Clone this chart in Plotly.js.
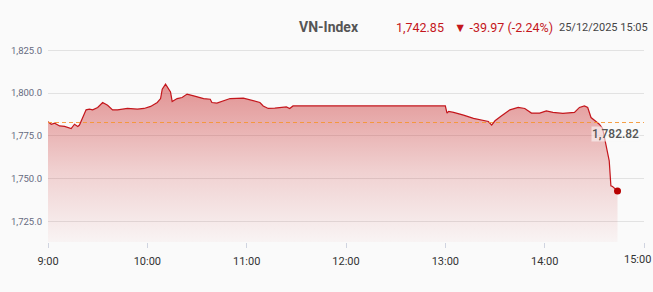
<!DOCTYPE html>
<html>
<head>
<meta charset="utf-8">
<script src="https://cdn.plot.ly/plotly-3.0.1.min.js"></script>
<style>html,body{margin:0;padding:0;background:#fafafa;}#chart{width:653px;height:292px;}</style>
</head>
<body>
<div id="chart"></div>
<script>
const day = '2025-12-25 ';
const times = ['09:00','09:02','09:04','09:07','09:10','09:14','09:16','09:18','09:19','09:23','09:25','09:27','09:30','09:33','09:36','09:39','09:42','09:45','09:48','09:54','09:58','10:02','10:06','10:08','10:09','10:11','10:14','10:15','10:18','10:21','10:24','10:28','10:34','10:38','10:39','10:42','10:46','10:50','10:58','11:02','11:06','11:08','11:10','11:13','11:17','11:22','11:24','11:26','11:28','11:30','13:00','13:01','13:02','13:05','13:10','13:11','13:17','13:23','13:26','13:28','13:30','13:34','13:39','13:44','13:48','13:52','13:57','14:01','14:05','14:11','14:18','14:21','14:24','14:26','14:28','14:31','14:33','14:35','14:37','14:39','14:40','14:41','14:44'];
const values = [1783.2,1781.8,1782.4,1780.8,1780.5,1779.3,1781.8,1780.5,1781.3,1790.2,1790.6,1790.2,1791.6,1794.5,1792.9,1790.2,1790.2,1790.6,1791.0,1790.6,1791.0,1792.2,1794.5,1796.8,1802.3,1805.2,1800.7,1795.1,1796.8,1797.4,1799.4,1798.4,1796.8,1796.4,1794.5,1794.1,1795.4,1796.8,1797.0,1796.0,1795.4,1794.5,1792.5,1791.0,1791.2,1791.6,1791.9,1791.0,1792.5,1792.5,1792.5,1788.3,1789.3,1788.7,1787.7,1787.1,1785.2,1783.8,1783.4,1781.3,1783.8,1786.7,1790.2,1791.6,1791.0,1788.3,1788.3,1789.6,1788.7,1788.1,1788.7,1791.6,1792.5,1791.6,1785.7,1783.4,1781.8,1779.3,1769.2,1760.4,1745.8,1745.4,1742.85];
const refValue = 1782.82;
const refLabel = '1,782.82';
const tickTimes = ['09:00','10:00','11:00','12:00','13:00','14:00','15:00'];
const tickLabels = ['9:00','10:00','11:00','12:00','13:00','14:00','15:00'];
const yTicks = [1725,1750,1775,1800,1825];
const titleName = 'VN-Index';
const lastPrice = '1,742.85';
const change = '▼ -39.97 (-2.24%)';
const stamp = '25/12/2025 15:05';

const xs = times.map(t => day + t);
const xRange = [day + '09:00', day + '15:00'];
const yRange = [1713, 1831];

const main = {
  x: xs, y: values, type: 'scatter', mode: 'lines',
  line: {color: '#c4161c', width: 1.2},
  fill: 'tozeroy',
  fillgradient: {type: 'vertical', start: yRange[0], stop: 1806,
    colorscale: [[0, 'rgba(200,40,40,0.03)'], [0.45, 'rgba(200,40,40,0.2)'], [1, 'rgba(200,40,40,0.5)']]},
  hoverinfo: 'skip', showlegend: false
};
const last = {
  x: [xs[xs.length - 1]], y: [values[values.length - 1]], type: 'scatter', mode: 'markers',
  marker: {color: '#b80000', size: 7}, showlegend: false, hoverinfo: 'skip'
};

const layout = {
  width: 653, height: 292,
  margin: {l: 48, r: 9, t: 40, b: 50},
  paper_bgcolor: '#fafafa', plot_bgcolor: '#fafafa',
  font: {family: 'Roboto, sans-serif'},
  xaxis: {
    type: 'date', range: xRange,
    tickvals: tickTimes.map(t => day + t),
    ticktext: tickLabels.map((t, i) => i === tickLabels.length - 1 ? '' : t),
    showgrid: false, zeroline: false, showline: false,
    ticks: 'outside', ticklen: 5, tickcolor: '#d0d4e0',
    ticklabelstandoff: 4,
    tickfont: {size: 11, color: '#333'}
  },
  yaxis: {
    range: yRange, tickvals: yTicks, tickformat: ',.1f',
    showgrid: true, gridcolor: '#e2e2e2', gridwidth: 1, zeroline: false, showline: false,
    ticks: '', ticklabelstandoff: 5,
    tickfont: {size: 9.5, color: '#666a80'}
  },
  shapes: [{
    type: 'line', xref: 'paper', x0: 0, x1: 1, yref: 'y', y0: refValue, y1: refValue,
    line: {color: 'rgba(245,150,50,0.9)', width: 1.2, dash: '4px,3px'}
  }],
  annotations: [
    {xref: 'paper', x: 1, y: refValue, yref: 'y', yshift: -12, xshift: -4, xanchor: 'right', yanchor: 'middle',
     text: refLabel, showarrow: false, font: {size: 12, color: '#555', weight: 500}, bgcolor: 'rgba(250,250,250,0.6)', borderpad: 0},
    {xref: 'paper', x: 1, xshift: 9, yref: 'paper', y: 0, yshift: -9, xanchor: 'right', yanchor: 'top',
     text: tickLabels[tickLabels.length - 1], showarrow: false, font: {size: 11, color: '#333'}},
    {xref: 'paper', yref: 'paper', x: (297 - 48) / 596, y: 1, yshift: 13, xanchor: 'left', yanchor: 'middle',
     text: '<b>' + titleName + '</b>', showarrow: false, font: {size: 14, color: '#555'}},
    {xref: 'paper', yref: 'paper', x: (394 - 48) / 596, y: 1, yshift: 13, xanchor: 'left', yanchor: 'middle',
     text: lastPrice, showarrow: false, font: {size: 12.5, color: '#c4161c'}},
    {xref: 'paper', yref: 'paper', x: (452 - 48) / 596, y: 1, yshift: 13, xanchor: 'left', yanchor: 'middle',
     text: change, showarrow: false, font: {size: 12.5, color: '#c4161c'}},
    {xref: 'paper', yref: 'paper', x: (557 - 48) / 596, y: 1, yshift: 13, xanchor: 'left', yanchor: 'middle',
     text: stamp, showarrow: false, font: {size: 11, color: '#444'}}
  ]
};

Plotly.newPlot('chart', [main, last], layout, {staticPlot: true, displayModeBar: false});
</script>
</body>
</html>
